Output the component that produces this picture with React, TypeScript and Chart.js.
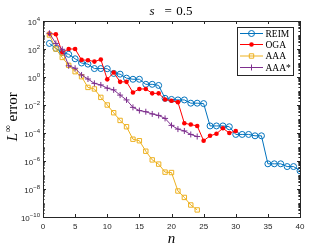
import React, { useEffect, useRef } from "react";
import { Chart, registerables } from "chart.js";

Chart.register(...registerables);

// ---------- data ----------
const nValues = [
  1, 2, 3, 4, 5, 6, 7, 8, 9, 10, 11, 12, 13, 14, 15, 16, 17, 18, 19, 20,
  21, 22, 23, 24, 25, 26, 27, 28, 29, 30, 31, 32, 33, 34, 35, 36, 37, 38, 39, 40,
];

const reimError = [
  2.5e2, 1.1e2, 56, 42, 20, 10, 8.3, 4.0, 4.0, 3.9,
  1.8, 1.6, 0.83, 0.69, 0.69, 0.3, 0.3, 0.25, 0.03, 0.025,
  0.023, 0.023, 0.0135, 0.0135, 0.0126, 3.2e-4, 3.2e-4, 3.2e-4, 2.8e-4, 7.9e-5,
  7.9e-5, 7.9e-5, 6.3e-5, 6.3e-5, 6.3e-7, 6.3e-7, 6.3e-7, 4.0e-7, 4.0e-7, 2.0e-7,
];

const ogaError = [
  1260, 1120, 56, 100, 100, 16.6, 15.8, 12.6, 17.8, 0.68,
  2.1, 0.45, 0.45, 0.079, 0.14, 0.14, 0.068, 0.068, 0.025, 0.02,
  0.016, 5.0e-4, 4.0e-4, 3.2e-4, 2.8e-5, 6.3e-5, 8.9e-5, 2.2e-4, 1.0e-4, 1.4e-4,
];

const aaaError = [
  1000, 100, 25, 6.8, 2.4, 1.05, 0.18, 0.14, 0.035, 0.01,
  2.8e-3, 7.9e-4, 2.8e-4, 3.6e-5, 2.8e-5, 5.0e-6, 1.2e-6, 6.0e-7, 1.6e-7, 1.5e-7,
  7.2e-9, 2.5e-9, 7.2e-10, 3.2e-10,
];

const aaaStarError = [
  1320, 250, 95, 6.3, 4.2, 1.4, 0.72, 0.35, 0.27, 0.16,
  0.12, 0.051, 0.023, 6.8e-3, 4.0e-3, 3.3e-3, 2.3e-3, 1.8e-3, 1.1e-3, 3.5e-4,
  1.9e-4, 1.4e-4, 7.9e-5, 5.6e-5,
];

const seriesNames = ["REIM", "OGA", "AAA", "AAA*"];
const seriesColors = ["#0072BD", "#FF0000", "#EDB120", "#7E2F8E"];
const seriesMarkers = ["circleOpen", "circleFilled", "square", "plus"];

const xTickValues = [0, 5, 10, 15, 20, 25, 30, 35, 40];
const yTickExponents = [4, 2, 0, -2, -4, -6, -8, -10];

const titleVar = "s";
const titleEq = "=";
const titleVal = "0.5";
const xLabel = "n";
const yLabelMain = "L";
const yLabelSup = "∞";
const yLabelRest = " error";

// ---------- styles ----------
const AXIS = "#262626";
const SERIF = '"Liberation Serif", "Times New Roman", serif';
const SANS = '"Liberation Sans", Arial, sans-serif';

const toPoints = (ys: number[]) => ys.map((y, i) => ({ x: nValues[i], y }));

function drawMarker(ctx: CanvasRenderingContext2D, kind: string, x: number, y: number, color: string) {
  ctx.save();
  ctx.strokeStyle = color;
  ctx.fillStyle = color;
  ctx.lineWidth = 1;
  ctx.beginPath();
  if (kind === "circleOpen") {
    ctx.arc(x, y, 3, 0, Math.PI * 2);
    ctx.stroke();
  } else if (kind === "circleFilled") {
    ctx.arc(x, y, 2.3, 0, Math.PI * 2);
    ctx.fill();
  } else if (kind === "square") {
    ctx.rect(x - 2.2, y - 2.2, 4.4, 4.4);
    ctx.stroke();
  } else {
    ctx.moveTo(x - 3, y);
    ctx.lineTo(x + 3, y);
    ctx.moveTo(x, y - 3);
    ctx.lineTo(x, y + 3);
    ctx.stroke();
  }
  ctx.restore();
}

const overlayPlugin = {
  id: "matlabOverlay",
  afterDraw(chart: any) {
    const ctx: CanvasRenderingContext2D = chart.ctx;
    const { left, right, top, bottom } = chart.chartArea;
    const xs = chart.scales.x;
    const ys = chart.scales.y;
    ctx.save();

    // box
    ctx.strokeStyle = AXIS;
    ctx.lineWidth = 1;
    ctx.strokeRect(Math.round(left) + 0.5, Math.round(top) + 0.5, Math.round(right - left), Math.round(bottom - top));

    // x ticks
    ctx.beginPath();
    for (const v of xTickValues) {
      const px = Math.round(xs.getPixelForValue(v)) + 0.5;
      ctx.moveTo(px, bottom);
      ctx.lineTo(px, bottom - 3);
      ctx.moveTo(px, top);
      ctx.lineTo(px, top + 3);
    }
    ctx.stroke();

    // y ticks (major + minor)
    ctx.beginPath();
    for (let e = -10; e <= 4; e++) {
      for (let k = 1; k <= 9; k++) {
        const v = k * Math.pow(10, e);
        if (v > 1e4 * 1.0001) continue;
        const py = Math.round(ys.getPixelForValue(v)) + 0.5;
        const major = k === 1 && yTickExponents.includes(e);
        const len = major ? 3 : 1.6;
        ctx.moveTo(left, py);
        ctx.lineTo(left + len, py);
        ctx.moveTo(right, py);
        ctx.lineTo(right - len, py);
      }
    }
    ctx.stroke();

    // x tick labels
    ctx.fillStyle = AXIS;
    ctx.font = `8px ${SANS}`;
    ctx.textAlign = "center";
    ctx.textBaseline = "alphabetic";
    for (const v of xTickValues) {
      const px = xs.getPixelForValue(v);
      ctx.fillText(String(v), px, bottom + 12);
    }

    // y tick labels with superscript
    for (const e of yTickExponents) {
      const py = ys.getPixelForValue(Math.pow(10, e));
      const expStr = String(e).replace("-", "\u2212");
      ctx.font = `6px ${SANS}`;
      const ew = ctx.measureText(expStr).width;
      ctx.textAlign = "left";
      const expX = left - 3 - ew;
      ctx.fillText(expStr, expX, py - 0.5);
      ctx.font = `8px ${SANS}`;
      ctx.textAlign = "right";
      ctx.fillText("10", expX, py + 3.5);
    }

    // title
    const cx = (left + right) / 2;
    ctx.fillStyle = "#000";
    ctx.textAlign = "left";
    ctx.font = `italic 13px ${SERIF}`;
    ctx.fillText(titleVar, cx - 22, 15);
    ctx.font = `13px ${SERIF}`;
    ctx.fillText(titleEq, cx - 7, 15);
    ctx.textAlign = "right";
    ctx.fillText(titleVal, cx + 21, 15);

    // x label
    ctx.font = `italic 15px ${SERIF}`;
    ctx.textAlign = "center";
    ctx.fillText(xLabel, cx, 243);

    // y label (rotated)
    ctx.save();
    const cy = (top + bottom) / 2;
    ctx.translate(17, cy - 2);
    ctx.rotate(-Math.PI / 2);
    ctx.textAlign = "left";
    ctx.font = `italic 15px ${SERIF}`;
    const a = ctx.measureText(yLabelMain).width;
    ctx.font = `10px ${SERIF}`;
    const b = ctx.measureText(yLabelSup).width;
    ctx.font = `15px ${SERIF}`;
    const c = ctx.measureText(yLabelRest).width;
    let lx = -(a + b + c) / 2;
    ctx.font = `italic 15px ${SERIF}`;
    ctx.fillText(yLabelMain, lx, 0);
    lx += a + 0.5;
    ctx.font = `10px ${SERIF}`;
    ctx.fillText(yLabelSup, lx, -6);
    lx += b;
    ctx.font = `15px ${SERIF}`;
    ctx.fillText(yLabelRest, lx, 0);
    ctx.restore();

    // legend
    const lgL = 237, lgT = 27, lgR = 294, lgB = 76;
    ctx.fillStyle = "#fff";
    ctx.fillRect(lgL, lgT, lgR - lgL, lgB - lgT);
    ctx.strokeStyle = AXIS;
    ctx.lineWidth = 1;
    ctx.strokeRect(lgL + 0.5, lgT + 0.5, lgR - lgL - 1, lgB - lgT - 1);
    const rowY = [33.5, 44.5, 56, 67.5];
    seriesNames.forEach((name, i) => {
      const y = rowY[i];
      ctx.strokeStyle = seriesColors[i];
      ctx.lineWidth = 1;
      ctx.beginPath();
      ctx.moveTo(240, y);
      ctx.lineTo(263, y);
      ctx.stroke();
      drawMarker(ctx, seriesMarkers[i], 251.5, y, seriesColors[i]);
      ctx.fillStyle = "#000";
      ctx.font = `9.5px ${SERIF}`;
      ctx.textAlign = "left";
      ctx.textBaseline = "middle";
      ctx.fillText(name, 265.5, y + 0.5);
      ctx.textBaseline = "alphabetic";
    });

    ctx.restore();
  },
};

export default function App() {
  const ref = useRef<HTMLCanvasElement | null>(null);

  useEffect(() => {
    if (!ref.current) return;
    const base = { borderWidth: 1, tension: 0, pointBorderWidth: 1, pointHoverRadius: 0 };
    const chart = new Chart(ref.current, {
      type: "line",
      data: {
        datasets: [
          {
            ...base,
            label: seriesNames[0],
            data: toPoints(reimError),
            borderColor: seriesColors[0],
            backgroundColor: "rgba(0,0,0,0)",
            pointStyle: "circle",
            pointRadius: 3,
            order: 4,
          },
          {
            ...base,
            label: seriesNames[1],
            data: toPoints(ogaError),
            borderColor: seriesColors[1],
            backgroundColor: seriesColors[1],
            pointBackgroundColor: seriesColors[1],
            pointStyle: "circle",
            pointRadius: 2.3,
            pointBorderWidth: 0,
            order: 3,
          },
          {
            ...base,
            label: seriesNames[2],
            data: toPoints(aaaError),
            borderColor: seriesColors[2],
            backgroundColor: "rgba(0,0,0,0)",
            pointStyle: "rect",
            pointRadius: 3.1,
            order: 2,
          },
          {
            ...base,
            label: seriesNames[3],
            data: toPoints(aaaStarError),
            borderColor: seriesColors[3],
            backgroundColor: seriesColors[3],
            pointStyle: "cross",
            pointRadius: 3,
            order: 1,
          },
        ] as any,
      },
      options: {
        responsive: false,
        devicePixelRatio: 1,
        animation: false,
        events: [],
        layout: { padding: { left: 0, top: 21, right: 32, bottom: 0 } },
        plugins: {
          legend: { display: false },
          title: { display: false },
          tooltip: { enabled: false },
        },
        scales: {
          x: {
            type: "linear",
            min: 0,
            max: 40,
            grid: { display: false },
            border: { display: false },
            ticks: { display: false },
            afterFit: (s: any) => {
              s.height = 32;
            },
          },
          y: {
            type: "logarithmic",
            min: 1e-10,
            max: 1e4,
            grid: { display: false },
            border: { display: false },
            ticks: { display: false },
            afterFit: (s: any) => {
              s.width = 43;
            },
          },
        },
      } as any,
      plugins: [overlayPlugin],
    });
    return () => chart.destroy();
  }, []);

  return (
    <div style={{ position: "fixed", left: 0, top: 0, width: 332, height: 249, background: "#fff" }}>
      <canvas ref={ref} width={332} height={249} style={{ display: "block", width: 332, height: 249 }} />
    </div>
  );
}
